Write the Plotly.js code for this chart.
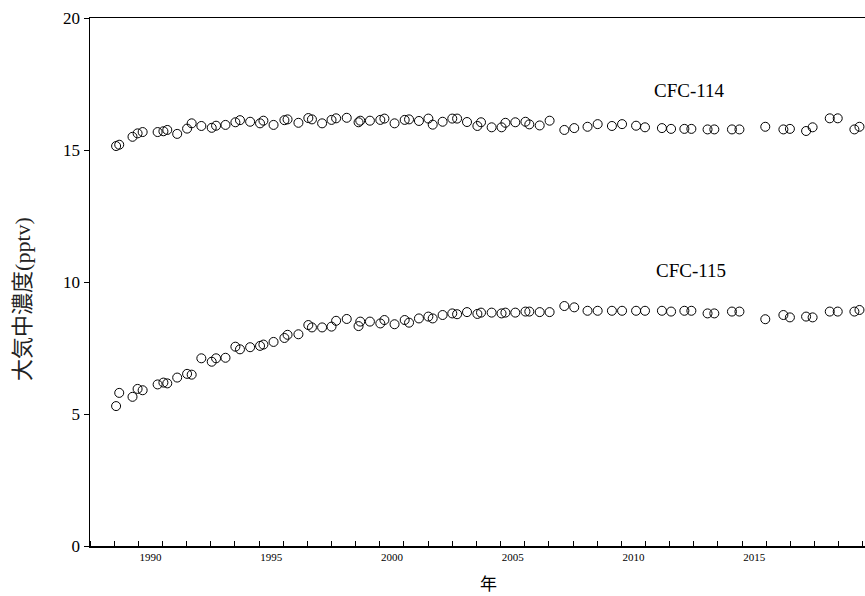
<!DOCTYPE html>
<html>
<head>
<meta charset="utf-8">
<script src="https://cdn.plot.ly/plotly-3.0.1.min.js"></script>
<style>
  html, body { margin: 0; padding: 0; overflow: hidden; background: #fff; }
  #chart { width: 900px; height: 596px; }
</style>
</head>
<body>
<div id="chart"></div>
<script>
// Sampling times (decimal years), shared by both species
const years = [
  1989.08, 1989.21, 1989.76, 1989.97, 1990.18, 1990.80, 1991.04, 1991.20, 1991.61, 1992.02,
  1992.21, 1992.61, 1993.04, 1993.22, 1993.61, 1994.02, 1994.21, 1994.63, 1995.04, 1995.18,
  1995.60, 1996.05, 1996.18, 1996.63, 1997.04, 1997.19, 1997.61, 1998.00, 1998.19, 1998.63,
  1999.12, 1999.19, 1999.59, 2000.02, 2000.19, 2000.61, 2001.03, 2001.21, 2001.62, 2002.01,
  2002.19, 2002.60, 2003.00, 2003.20, 2003.61, 2004.04, 2004.19, 2004.63, 2005.04, 2005.20,
  2005.61, 2006.03, 2006.19, 2006.62, 2007.03, 2007.64, 2008.05, 2008.60, 2009.02, 2009.61,
  2010.03, 2010.61, 2010.98, 2011.68, 2012.06, 2012.61, 2012.90, 2013.57, 2013.85, 2014.58,
  2014.89, 2015.96, 2016.71, 2016.98, 2017.65, 2017.92, 2018.63, 2018.96, 2019.65, 2019.86
];

// CFC-114 mixing ratio (pptv)
const cfc114 = [
  15.15, 15.20, 15.50, 15.63, 15.68, 15.68, 15.71, 15.76, 15.61, 15.81,
  16.01, 15.91, 15.84, 15.92, 15.95, 16.05, 16.13, 16.07, 16.01, 16.11,
  15.95, 16.13, 16.16, 16.03, 16.21, 16.16, 16.01, 16.14, 16.20, 16.22,
  16.05, 16.11, 16.11, 16.14, 16.19, 16.01, 16.14, 16.16, 16.10, 16.19,
  15.96, 16.07, 16.19, 16.19, 16.06, 15.91, 16.05, 15.86, 15.86, 16.03,
  16.05, 16.07, 15.97, 15.93, 16.11, 15.76, 15.83, 15.88, 15.98, 15.91,
  15.98, 15.92, 15.86, 15.83, 15.80, 15.80, 15.80, 15.78, 15.78, 15.78,
  15.78, 15.88, 15.78, 15.80, 15.72, 15.86, 16.20, 16.20, 15.78, 15.88
];

// CFC-115 mixing ratio (pptv)
const cfc115 = [
  5.30, 5.80, 5.65, 5.95, 5.90, 6.12, 6.19, 6.16, 6.38, 6.52,
  6.49, 7.11, 6.98, 7.11, 7.13, 7.55, 7.45, 7.53, 7.58, 7.63,
  7.73, 7.88, 8.00, 8.02, 8.37, 8.28, 8.28, 8.31, 8.53, 8.60,
  8.33, 8.50, 8.50, 8.43, 8.56, 8.40, 8.56, 8.46, 8.62, 8.69,
  8.62, 8.75, 8.81, 8.78, 8.86, 8.79, 8.84, 8.84, 8.81, 8.84,
  8.84, 8.88, 8.88, 8.86, 8.86, 9.09, 9.04, 8.91, 8.91, 8.91,
  8.91, 8.91, 8.91, 8.91, 8.88, 8.91, 8.91, 8.81, 8.81, 8.88,
  8.88, 8.59, 8.75, 8.66, 8.69, 8.66, 8.88, 8.88, 8.88, 8.94
];

// Year labels sit in the middle of each one-year interval
const yearLabels = ['1990', '1995', '2000', '2005', '2010', '2015'];
const yearLabelPos = yearLabels.map(y => Number(y) + 0.5);

const serif = '"Liberation Serif", "Times New Roman", "Noto Sans CJK JP", serif';

const marker = {
  symbol: 'circle-open',
  size: 9,
  color: '#000',
  line: { color: '#000', width: 1 }
};

const traces = [
  { x: years, y: cfc114, name: 'CFC-114', type: 'scatter', mode: 'markers', marker: marker, cliponaxis: false },
  { x: years, y: cfc115, name: 'CFC-115', type: 'scatter', mode: 'markers', marker: marker, cliponaxis: false }
];

const layout = {
  width: 900,
  height: 596,
  margin: { l: 90, r: 13, t: 18, b: 50 },
  paper_bgcolor: '#fff',
  plot_bgcolor: '#fff',
  showlegend: false,
  font: { family: serif, color: '#000' },
  xaxis: {
    range: [1988, 2021],
    tickmode: 'array',
    tickvals: yearLabelPos,
    ticktext: yearLabels,
    ticks: '',
    tickfont: { family: serif, size: 11, color: '#000' },
    showgrid: false,
    zeroline: false,
    showline: true,
    linecolor: '#000',
    linewidth: 1.5,
    mirror: true,
    minor: {
      tickmode: 'linear',
      tick0: 1988,
      dtick: 1,
      ticks: 'inside',
      ticklen: 5,
      tickwidth: 1,
      tickcolor: '#000',
      showgrid: false
    },
    title: { text: '年', font: { family: serif, size: 17, color: '#000' }, standoff: 16 },
    automargin: false
  },
  yaxis: {
    range: [0, 20],
    tickmode: 'array',
    tickvals: [0, 5, 10, 15, 20],
    ticks: 'outside',
    ticklen: 5,
    tickwidth: 1,
    tickcolor: '#000',
    tickfont: { family: serif, size: 17, color: '#000' },
    showgrid: false,
    zeroline: false,
    showline: true,
    linecolor: '#000',
    linewidth: 1.5,
    mirror: true,
    automargin: false
  },
  annotations: [
    // vertical axis title
    { x: -67 / 797, y: 0.468, xref: 'paper', yref: 'paper', text: '大気中濃度(pptv)', showarrow: false,
      textangle: -90, xanchor: 'center', yanchor: 'middle',
      font: { family: serif, size: 22, color: '#222' } },
    { x: 2012.82, y: 17.27, xref: 'x', yref: 'y', text: 'CFC-114', showarrow: false,
      xanchor: 'center', yanchor: 'middle', font: { family: serif, size: 19, color: '#000' } },
    { x: 2012.9, y: 10.45, xref: 'x', yref: 'y', text: 'CFC-115', showarrow: false,
      xanchor: 'center', yanchor: 'middle', font: { family: serif, size: 19, color: '#000' } }
  ]
};

Plotly.newPlot('chart', traces, layout, { displayModeBar: false, staticPlot: true });
</script>
</body>
</html>
